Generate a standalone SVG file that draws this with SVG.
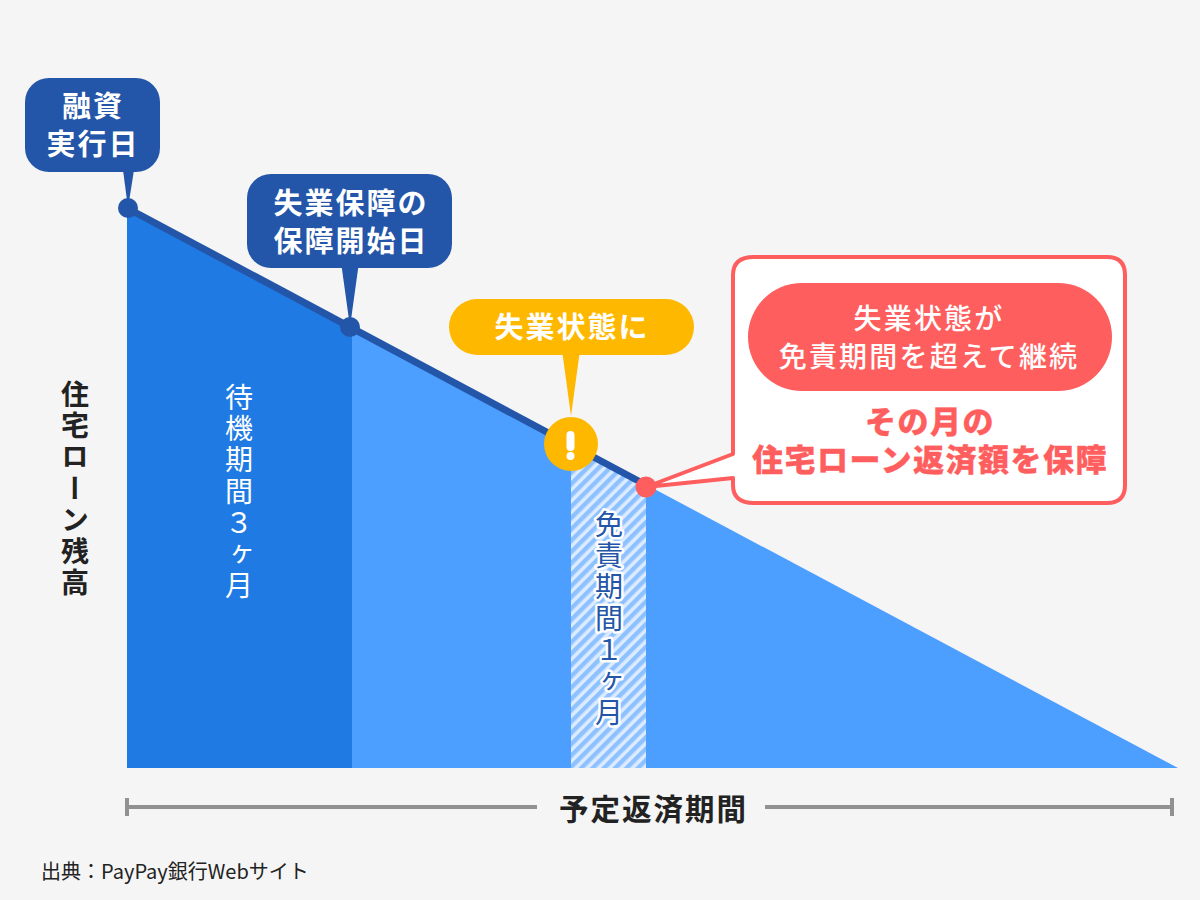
<svg xmlns="http://www.w3.org/2000/svg" width="1200" height="900" viewBox="0 0 1200 900">
<style>
text{font-family:"Noto Sans CJK JP","Noto Sans",sans-serif}
.w{fill:#fff;font-weight:700;font-size:29px;text-anchor:middle;letter-spacing:2px}
.m{fill:#fff;font-weight:500;font-size:28px;text-anchor:middle;letter-spacing:2.2px}
.r{fill:#ff5e5e;font-weight:900;font-size:31px;text-anchor:middle;letter-spacing:1.5px;stroke:#ff5e5e;stroke-width:.3px}
.v{writing-mode:vertical-rl;text-anchor:start;font-size:28px;letter-spacing:3.4px}
.navy{fill:#2355a8}
.bar{stroke:#919191;stroke-width:4;fill:none}
</style>
<defs>
<pattern id="hatch" width="8" height="8" patternUnits="userSpaceOnUse" patternTransform="rotate(45)">
<rect width="8" height="8" fill="#dcebff"/><rect width="4.4" height="8" fill="#8dc1ff"/>
</pattern>
</defs>
<rect width="1200" height="900" fill="#f5f5f5"/>
<g id="chart">
<polygon points="127,208 1178,768 127,768" fill="#4d9fff"/>
<polygon points="127,208 352,328 352,768 127,768" fill="#1f7be3"/>
<polygon points="571,444 646,484.5 646,768 571,768" fill="url(#hatch)"/>
</g>
<g id="connectors">
<line x1="127" y1="208" x2="646" y2="485" stroke="#2355a8" stroke-width="7"/>
<polygon points="123,170 134,170 128,208" class="navy"/>
<polygon points="341,262 359,262 350,327" class="navy"/>
<polygon points="562,350 580,350 571,416" fill="#ffb800"/>
</g>
<g id="node-start">
<rect x="25" y="78" width="135" height="94" rx="24" class="navy"/>
<circle cx="128" cy="208" r="10" class="navy"/>
<text class="w" x="93" y="117">融資</text>
<text class="w" x="93" y="155">実行日</text>
</g>
<g id="node-cover">
<rect x="247" y="174" width="205" height="94" rx="24" class="navy"/>
<circle cx="350" cy="327" r="10" class="navy"/>
<text class="w" x="351" y="214">失業保障の</text>
<text class="w" x="351" y="252">保障開始日</text>
</g>
<g id="node-unemployed">
<rect x="449" y="299" width="245" height="56" rx="28" fill="#ffb800"/>
<text class="w" x="572" y="338">失業状態に</text>
<circle cx="571" cy="444" r="27" fill="#ffb800"/>
<rect x="566.500" y="431" width="8" height="20" rx="4" fill="#fff"/>
<circle cx="570.500" cy="456" r="4" fill="#fff"/>
</g>
<g id="node-benefit">
<path d="M754 257H1107Q1125 257 1125 275V485Q1125 503 1107 503H754Q733 503 733 485V478L646 487L733 454V275Q733 257 754 257Z" fill="#fff" stroke="#ff5e5e" stroke-width="4" stroke-linejoin="round"/>
<circle cx="646" cy="487" r="10.500" fill="#ff5e5e"/>
<rect x="748" y="283" width="364" height="108" rx="54" fill="#ff5e5e"/>
<text class="m" x="929" y="329">失業状態が</text>
<text class="m" x="929" y="367">免責期間を超えて継続</text>
<text class="r"><tspan x="930" y="433">その月の</tspan><tspan x="930" y="471">住宅ローン返済額を保障</tspan></text>
</g>
<g id="labels">
<text class="v" x="75" y="380" fill="#222" font-weight="700">住宅ローン残高</text>
<text class="v" x="239" y="383" fill="#fff">待機期間３ヶ月</text>
<text class="v" x="609" y="510" fill="#2355a8" stroke="#fff" stroke-width="5" stroke-linejoin="round" paint-order="stroke">免責期間１ヶ月</text>
</g>
<g id="axis">
<path class="bar" d="M127 798V816M127 807H537M765 807H1172M1172 798V816"/>
<text x="653.500" y="820" fill="#222" font-size="29.500" font-weight="700" text-anchor="middle" letter-spacing="2">予定返済期間</text>
</g>
<text x="41" y="879" fill="#222" font-size="20">出典：PayPay銀行Webサイト</text>
</svg>
